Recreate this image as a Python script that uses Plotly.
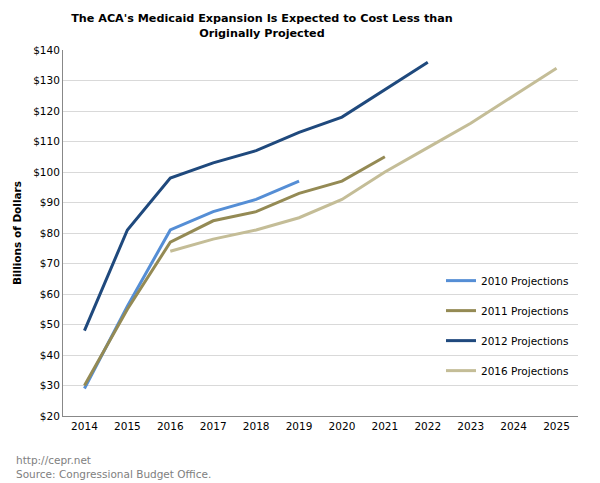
import plotly.graph_objects as go

years = [str(y) for y in range(2014, 2026)]
years_2010 = years[0:6]
vals_2010 = [29, 56, 81, 87, 91, 97]
years_2011 = years[0:8]
vals_2011 = [30, 55, 77, 84, 87, 93, 97, 105]
years_2012 = years[0:9]
vals_2012 = [48, 81, 98, 103, 107, 113, 118, 127, 136]
years_2016 = years[2:12]
vals_2016 = [74, 78, 81, 85, 91, 100, 108, 116, 125, 134]

series = [
    ("2010 Projections", years_2010, vals_2010, "#558ED5"),
    ("2011 Projections", years_2011, vals_2011, "#948A54"),
    ("2012 Projections", years_2012, vals_2012, "#1F497D"),
    ("2016 Projections", years_2016, vals_2016, "#C4BD97"),
]

fig = go.Figure()
for name, x, y, c in series:
    fig.add_trace(go.Scatter(x=x, y=y, name=name, mode="lines",
                             line=dict(color=c, width=3), legendgroup=name))

font = "DejaVu Sans, Verdana, sans-serif"
# page body has an 8px margin, so the figure is 592x475 placed at (8, 8)
fig.update_layout(
    width=592, height=475,
    margin=dict(l=55, r=22, t=42, b=67, autoexpand=False),
    paper_bgcolor="white", plot_bgcolor="white",
    font=dict(family=font, size=10.5, color="black"),
    title=dict(text="<b>The ACA's Medicaid Expansion Is Expected to Cost Less than<br>Originally Projected</b>",
               x=0.429, xanchor="center", xref="container",
               y=1 - 14 / 475, yanchor="top", yref="container",
               pad=dict(t=0, b=0, l=0, r=0),
               font=dict(family=font, size=11.2)),
    legend=dict(x=0.734, y=0.4095, xanchor="left", yanchor="top",
                bgcolor="rgba(0,0,0,0)", tracegroupgap=11,
                traceorder="grouped", itemwidth=30,
                font=dict(family=font, size=10.5)),
    xaxis=dict(type="category", categoryorder="array", categoryarray=years,
               range=[-0.5, 11.5], showgrid=False, showline=True,
               linecolor="#888888", linewidth=1, ticks="",
               automargin=False, tickfont=dict(size=10.5)),
    yaxis=dict(range=[20, 140], dtick=10, tickprefix="$", showgrid=True,
               gridcolor="#d9d9d9", gridwidth=1, showline=True,
               linecolor="#888888", linewidth=1, ticks="", zeroline=False,
               automargin=False, tickfont=dict(size=10.5),
               title=dict(text="<b>Billions of Dollars</b>", font=dict(size=10.5), standoff=9)),
)
fig.add_annotation(text="http://cepr.net<br>Source: Congressional Budget Office.",
                   xref="paper", yref="paper", x=-0.095, y=-0.098,
                   xanchor="left", yanchor="top", showarrow=False, align="left",
                   font=dict(family=font, size=10.5, color="#808080"))
fig.write_html("out.html")
